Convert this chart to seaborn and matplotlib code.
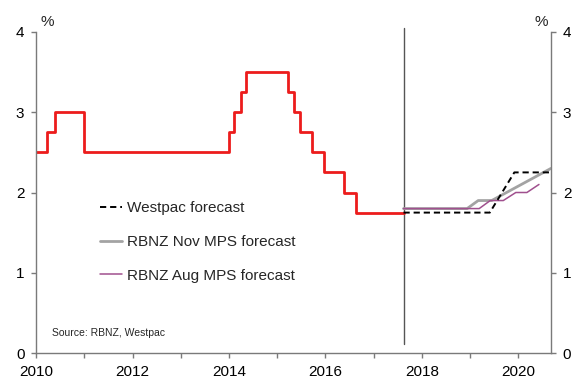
import matplotlib
matplotlib.use("Agg")
import matplotlib.pyplot as plt
import seaborn as sns
import pandas as pd
from matplotlib.ticker import MultipleLocator

# ---- data ----
ocr_x = [2010.0, 2010.23, 2010.39, 2011.0, 2014.0, 2014.10, 2014.24, 2014.35,
         2015.23, 2015.35, 2015.47, 2015.72, 2015.97, 2016.39, 2016.63, 2017.62]
ocr_y = [2.5, 2.75, 3.0, 2.5, 2.75, 3.0, 3.25, 3.5,
         3.25, 3.0, 2.75, 2.5, 2.25, 2.0, 1.75, 1.75]

westpac_x = [2017.62, 2019.41, 2019.92, 2020.68]
westpac_y = [1.75, 1.75, 2.25, 2.25]

nov_x = [2017.62, 2018.94, 2019.17, 2019.45, 2020.68]
nov_y = [1.8, 1.8, 1.9, 1.9, 2.3]

aug_x = [2017.62, 2019.19, 2019.42, 2019.69, 2019.95, 2020.18, 2020.43]
aug_y = [1.8, 1.8, 1.9, 1.9, 2.0, 2.0, 2.1]

x_ticks = [2010, 2012, 2014, 2016, 2018, 2020]
y_ticks = [0, 1, 2, 3, 4]
forecast_start = 2017.62

labels = ["Westpac forecast", "RBNZ Nov MPS forecast", "RBNZ Aug MPS forecast"]
source = "Source: RBNZ, Westpac"

# ---- plot ----
sns.set_theme(style="white")
plt.rcParams["font.family"] = ["Liberation Sans", "DejaVu Sans"]

fig = plt.figure(figsize=(5.74, 3.78), dpi=100)
ax = fig.add_axes([36.2 / 574, 1 - 353.3 / 378, (551 - 36.2) / 574, (353.3 - 31.7) / 378])

sns.lineplot(x=ocr_x, y=ocr_y, ax=ax, color="#ec1c1c", lw=2.0,
             drawstyle="steps-post", estimator=None, sort=False, legend=False)
sns.lineplot(x=nov_x, y=nov_y, ax=ax, color="#a3a3a3", lw=2.0,
             estimator=None, sort=False, label=labels[1])
sns.lineplot(x=aug_x, y=aug_y, ax=ax, color="#a0508e", lw=1.1,
             estimator=None, sort=False, label=labels[2])
sns.lineplot(x=westpac_x, y=westpac_y, ax=ax, color="black", lw=1.4,
             estimator=None, sort=False, label=labels[0], dashes=False,
             linestyle=(0, (3.2, 2.0)))

# vertical forecast marker
ax.plot([forecast_start, forecast_start], [0.12, 4.05], color="#555555",
        lw=1.0, clip_on=False, zorder=1)

ax.set_xlim(2010, 2020.68)
ax.set_ylim(0, 4)
ax.set_xticks(x_ticks)
ax.set_xticklabels([str(t) for t in x_ticks])
ax.xaxis.set_minor_locator(MultipleLocator(1))
ax.set_yticks(y_ticks)
ax.set_yticklabels([str(t) for t in y_ticks])
ax.set_xlabel("")
ax.set_ylabel("")

for s in ["left", "right", "bottom"]:
    ax.spines[s].set_visible(True)
    ax.spines[s].set_color("#7a7a7a")
    ax.spines[s].set_linewidth(1.0)
ax.spines["top"].set_visible(False)

ax.tick_params(axis="y", which="both", left=True, right=True, labelleft=True,
               labelright=True, direction="out", length=3.5, width=1,
               color="#7a7a7a", labelsize=11, pad=5, labelcolor="black")
ax.tick_params(axis="x", which="both", bottom=True, direction="out", length=3.5,
               width=1, color="#7a7a7a", labelsize=11, pad=5, labelcolor="black")

fig.text(47 / 574, 1 - 22 / 378, "%", ha="center", va="center", fontsize=11)
fig.text(541 / 574, 1 - 22 / 378, "%", ha="center", va="center", fontsize=11)
fig.text(52 / 574, 1 - 333 / 378, source, ha="left", va="center", fontsize=7.5)

handles, labs = ax.get_legend_handles_labels()
order = [labs.index(l) for l in labels]
ax.legend([handles[i] for i in order], [labs[i] for i in order],
          loc="upper left", bbox_to_anchor=(100 / 574, 1 - 201 / 378),
          bbox_transform=fig.transFigure, frameon=False, fontsize=11,
          handlelength=1.45, handletextpad=0.3, labelspacing=1.3,
          borderpad=0, borderaxespad=0)

fig.savefig("out.png", dpi=100)
